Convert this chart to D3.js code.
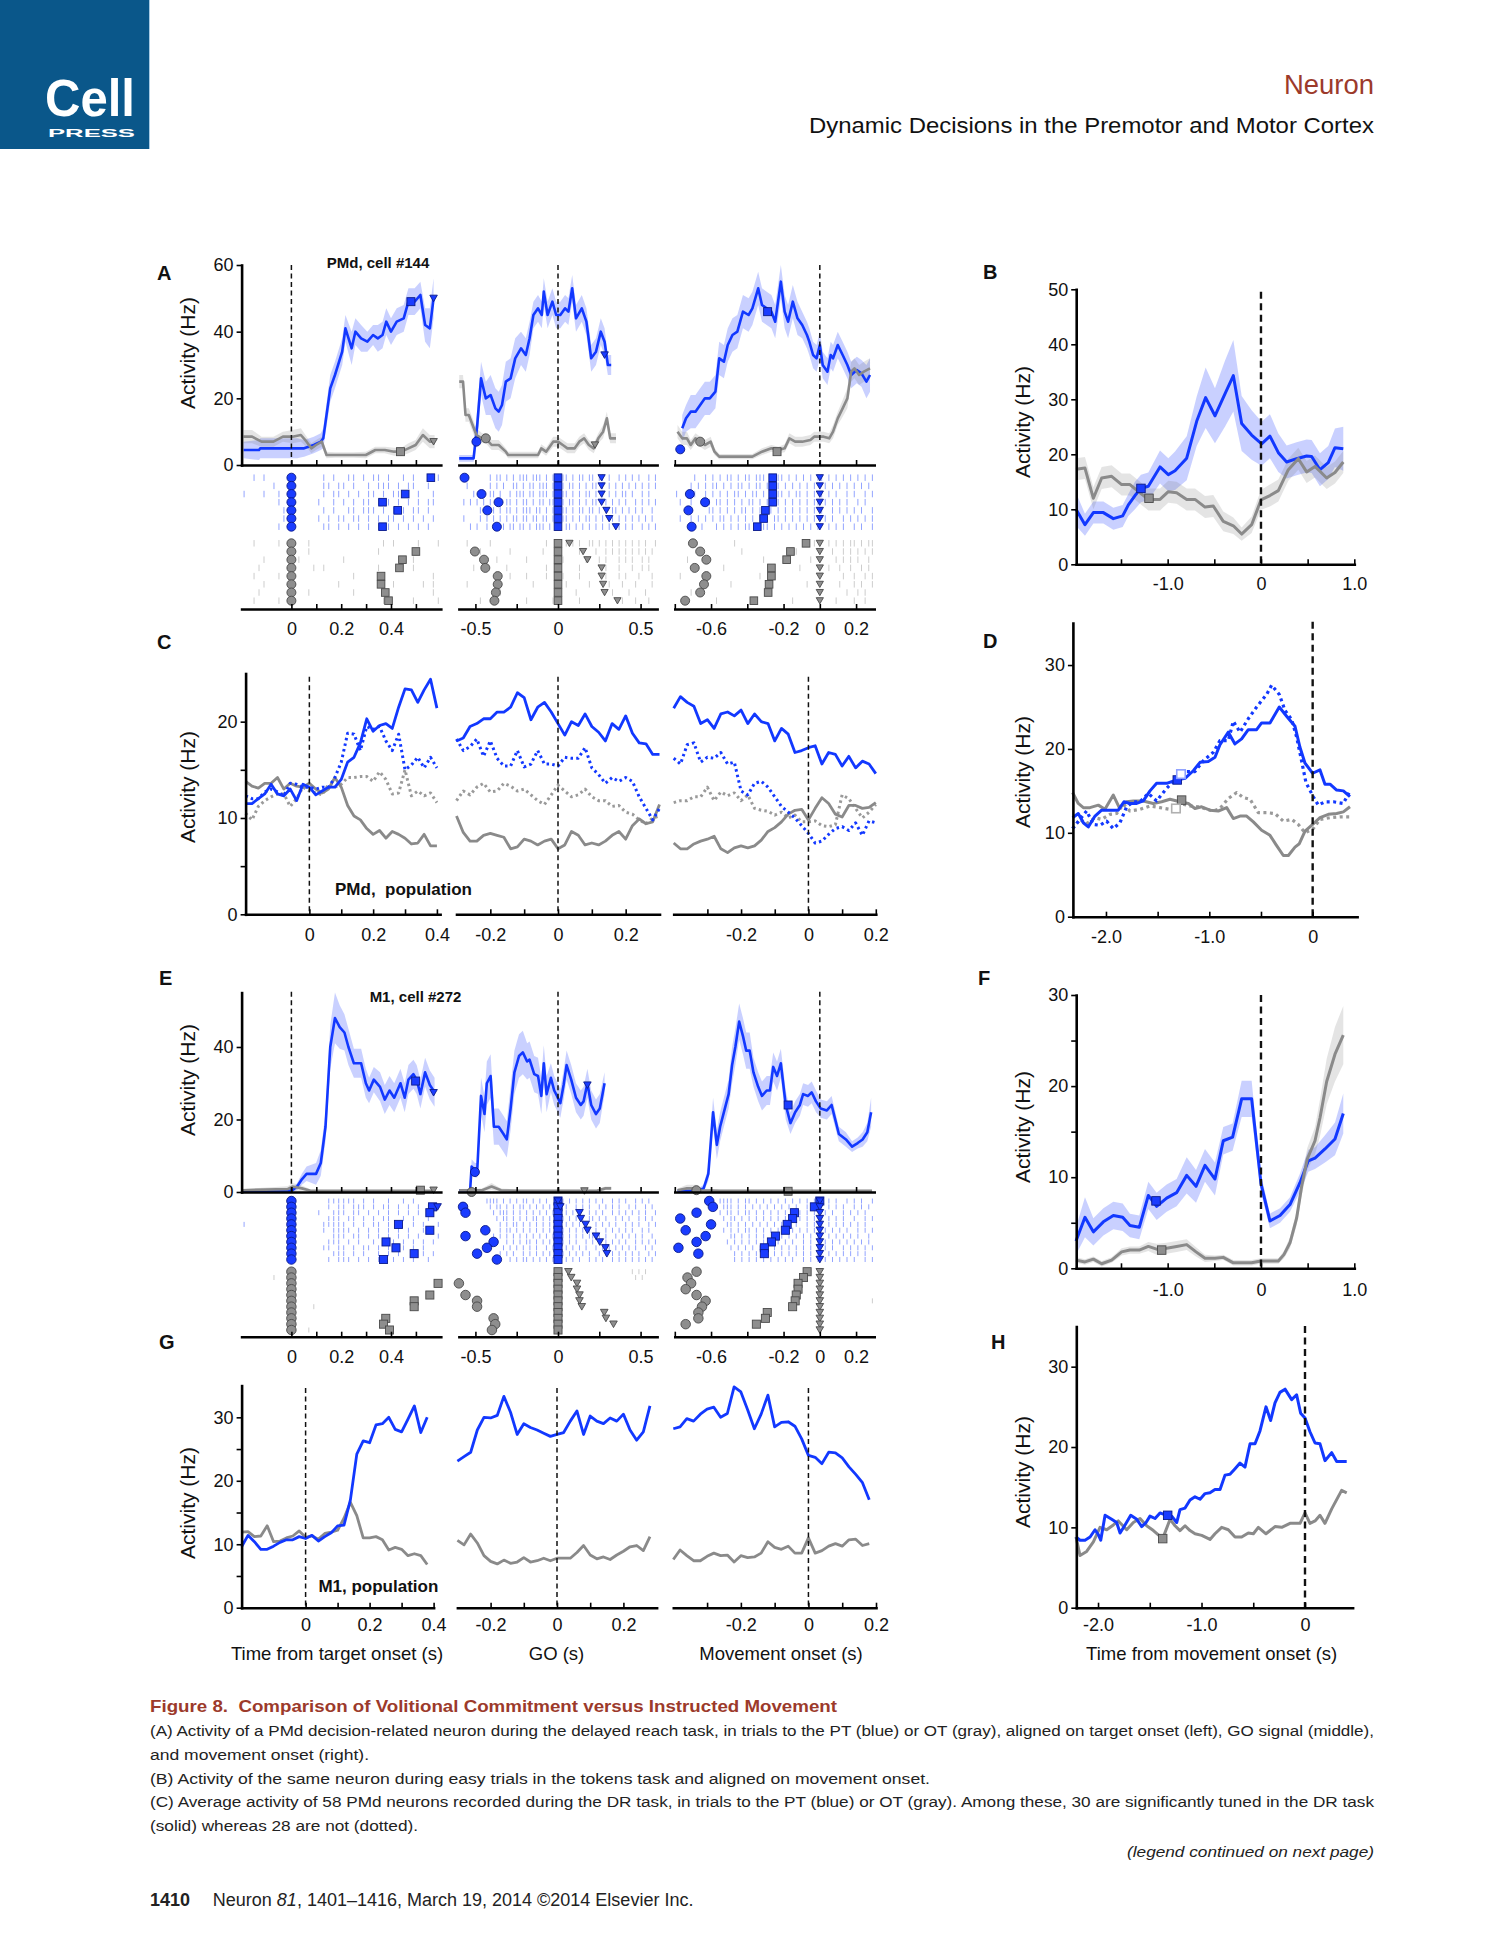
<!DOCTYPE html>
<html><head><meta charset="utf-8">
<script src="https://cdn.jsdelivr.net/npm/d3@7"></script>
<style>body{margin:0;background:#fff}svg{display:block}</style>
</head><body>
<script>
// ================= DATA =================
// Panel A (PMd cell #144, delayed reach): [time s, rate Hz, sem Hz]
const A_left_blue = [[-0.192,4.5,2.5],[-0.13,4.5,3],[-0.125,5,3],[-0.072,5,3],[-0.015,5,3],[0.023,5,3],[0.051,5,2.5],[0.09,6,2.5],[0.118,7,2.5],[0.128,8,3],[0.156,23,4],[0.175,27,4],[0.204,34,4],[0.217,41,4],[0.242,35,5],[0.257,40,4],[0.28,38,4],[0.305,37,3],[0.328,39,3],[0.347,38,4],[0.366,39,4],[0.381,43,4],[0.4,40,4],[0.423,43,4],[0.451,44,4],[0.47,49,4],[0.495,49,4],[0.518,51,4],[0.537,42,5],[0.556,41,6],[0.571,50,6]];
const A_left_gray = [[-0.192,8.5,2],[-0.158,8.5,2],[-0.12,7,1.5],[-0.072,7,1.5],[-0.034,8.5,1.5],[0.004,8.5,2],[0.038,9,2],[0.061,7,1.5],[0.08,5,1.5],[0.099,6,1.5],[0.122,7,1.5],[0.141,3,1],[0.175,3,0.8],[0.213,3,0.8],[0.251,3,0.8],[0.299,3,1],[0.337,4.5,1],[0.375,4.5,1],[0.413,4,1.2],[0.442,4,1.2],[0.47,5,1.5],[0.499,6,1.5],[0.528,9,2],[0.556,7,2],[0.575,7,2]];
const A_mid_blue = [[-0.598,2,1],[-0.511,2,1],[-0.5,7,3],[-0.489,12,5],[-0.466,26,5],[-0.437,20,5],[-0.408,21,6],[-0.379,17,6],[-0.359,16,6],[-0.339,18,6],[-0.316,25,6],[-0.287,26,6],[-0.259,32,6],[-0.224,35,5],[-0.195,33,5],[-0.172,38,5],[-0.149,45,4],[-0.121,47,4],[-0.098,45,4],[-0.086,52,4],[-0.063,45,4],[-0.034,49,4],[-0.011,45,4],[0.014,45,4],[0.043,47,4],[0.063,46,4],[0.086,53,4],[0.109,44,4],[0.144,47,4],[0.172,43,4],[0.201,32,4],[0.23,34,4],[0.259,40,4],[0.282,37,4],[0.302,30,3],[0.322,30,3]];
const A_mid_gray = [[-0.598,25,2],[-0.575,25,2],[-0.56,15,2],[-0.54,15,2],[-0.517,12,2],[-0.494,9,2],[-0.46,8,1.5],[-0.437,8,1.5],[-0.402,6,1.5],[-0.359,6,1.5],[-0.316,4,1],[-0.302,3,1],[-0.244,3,1],[-0.172,3,1],[-0.121,3,1],[-0.101,5,1.2],[-0.072,4,1.2],[-0.029,7,1.5],[0,7,1.5],[0.029,6,1.5],[0.057,5,1.5],[0.101,5,1.5],[0.129,7,1.5],[0.158,8,1.5],[0.187,6,1.5],[0.216,5,1.5],[0.244,8,1.5],[0.273,10,2],[0.296,14,2],[0.316,8,1.5],[0.351,8,1.5]];
const A_right_blue = [[-0.759,11,4],[-0.738,14,4],[-0.712,16,5],[-0.686,16,5],[-0.66,18,5],[-0.634,20,5],[-0.607,20,5],[-0.576,22,5],[-0.555,32,5],[-0.529,31,5],[-0.508,36,5],[-0.482,39,5],[-0.455,40,5],[-0.424,46,5],[-0.393,45,5],[-0.372,47,5],[-0.34,53,5],[-0.319,48,5],[-0.293,47,5],[-0.267,46,5],[-0.246,43,5],[-0.215,55,5],[-0.194,46,5],[-0.175,43,5],[-0.149,49,5],[-0.123,44,5],[-0.097,42,4],[-0.071,39,4],[-0.058,37,4],[-0.037,33,4],[-0.018,32,4],[0,36,4],[0.016,30,4],[0.042,28,4],[0.06,33,4],[0.073,32,4],[0.099,36,4],[0.126,33,4],[0.152,30,4],[0.173,27,4],[0.204,28.5,4],[0.23,27.5,4],[0.257,25,5],[0.277,27,5]];
const A_right_gray = [[-0.785,10,2],[-0.759,8,2],[-0.733,8,2],[-0.712,6,1.5],[-0.686,8,1.5],[-0.66,7,1.5],[-0.634,6,1.5],[-0.602,7,1.5],[-0.581,4,1],[-0.555,2.5,0.8],[-0.503,2.5,0.8],[-0.424,2.5,0.8],[-0.372,2.5,0.8],[-0.319,4,1],[-0.267,5,1],[-0.228,4.5,1],[-0.194,5,1.2],[-0.168,8,1.5],[-0.136,7,1.5],[-0.097,7,1.5],[-0.052,7.5,1.5],[-0.031,8.5,1.5],[0.021,8.5,1.5],[0.052,8,1.5],[0.073,10,2],[0.099,14,2],[0.126,17,2.5],[0.152,20,3],[0.173,28,3],[0.191,29,3],[0.217,27,3],[0.243,28,3],[0.277,29,3]];
// PSTH event markers: [time, rate, shape (c circle / s square / t triangle), colour (b/g)]
const A_left_marks = [[0.48,49,"s","b"],[0.571,50,"t","b"],[0.438,4,"s","g"],[0.571,7,"t","g"]];
const A_mid_marks = [[-0.494,7,"c","b"],[-0.437,8,"c","g"],[0.282,33,"t","b"],[0.224,6,"t","g"]];
const A_right_marks = [[-0.77,4.7,"c","b"],[-0.66,7,"c","g"],[-0.288,46,"s","b"],[-0.236,4,"s","g"]];
// Rasters: one string per trial, one character per 20 ms bin ("|" = spike), spaces ignored
const A_left_rasterBlue = [
"..|.|..... ......|.|. .||.|.||.| ..|.|..|.|",
"......|... ......||.| |.|..|.||| .|.||..|..",
"|...|..|.. ......|.|| .|.|.||.|. ||.|.|..|.",
".......|.. .....|..|. |.|.||.|.| .|.|.|.||.",
"........|. ......|.|. .||.|||.|. |.|.||.|..",
"........|. .....|.|.| |.||.|.|.| |.|.|.|.|.",
".......|.. ......||.| .|.|.|.||| .|.|.|.|.."];
const A_left_rasterGray = [
"..|....|.. ...|...... ........|. |....|...|",
".......... ...|...... .......|.. ....|.....",
"....|..... .|........ |......... ....|.....",
"...|...... ....|.|... .......|.. ....|.....",
"..|....|.. .......... ..|....... ........|.",
"....|..... .........| .......... |.....|.|.",
"...|...... ...|...... ..|....... ........|.",
"..|....|.. .......... ........|. ....|....|"];
const A_mid_rasterBlue = [
".........| .||.|.|.|| |.|||.|.|| |||.|.||.| |.||.|..|. |.|.|..|.|",
"..|......| .|.|..||.| .||.|||.|| ||.||.|.|. ||.|.|.|.| .|.|.|.|.|",
"....|.|..| |.|..|.||| .||.|||.|| |||.|.|.|| .|.|.|.|.| |.|..|.|..",
".|.|.|.|.| ..|.||.|.| |.|.||.||| ||.||.|.|. ||..|.|.|. |..|.|.|.|",
"......|.|. |.|.||.|.| ||.||.|.|| .||.|.||.| |.|.|.||.| .|.|.|..|.",
".|....|.|. |.|.|.||.| |.||.||.|. |||.|.|.|| .|.|.||.|. |.|.|.|.|.",
"...|.|..|. |..|.||.|| .|.|||.|.| |.||.|.|.| .|.|.|..|. |.|..|.|.|"];
const A_mid_rasterGray = [
"..|......| .......... ......|..| ..|.|.|..| |.|.|.|.|. |.|.|.|..|",
"......|... .....|.... .....|.... |.....|... .|..|.|.|. |.|.|.|.|.",
".......... .|........ |......... .|......|. ..|.|...|. |.|..|.|..",
"....|..... ....|..... ......|... ......|... ....|...|. ..|..|.|..",
".......... .....|.... |.....|... .|....|... ....|...|. |...|...|.",
"..|....... .......... ..|....... ..|......| .....|...| ...|....|.",
".......... ..|....... .........| .....|.... ......|... .|....|...",
"......|... .......... |.......|. ......|... .........| ...|...|.."];
const A_right_rasterBlue = [
".....|..|. |.|.||.|.| |.|||.|.|| .|.|.|.|.| |.|.|.|.|. |.|.|",
"....|.|.|. ||.|.|.||. |.||.|.||. |.|.|.|.|. .|.|.|.|.| .|.|.",
"|....|..|. |.|.|.||.| .||.|.|.|| .|.||.|.|. |.|.|..|.| ..|.|",
".|..|..|.| .||.|.|.|. ||.|.||.|. |.|.|.|.|| .|.|.|.|.. |.|..",
"....|....| |.|.|.|.|| .|.|.||.|. |.|.|.|.|. |..|.|.|.| .|..|",
".|..|.|.|. |.||.|.|.| .|.|.|.||. |.|.|.|.|. .|.|..|.|. |.|.|",
"....|..|.. .|.|.|.|.| |.|.||.|.| .|.|.|.|.| ..|.|.|..| .|..|"];
const A_right_rasterGray = [
"....|..... ......|... .......... .....|..|. ..|.|.|.|| .|.||",
".......... ........|. .......... ...|...... ...|..|.|. |.|.|",
"...|...... .......... ....|..... .......|.. ....|.|.|. |..|.",
".......... ...|...... .......... ....|..... ..|..|..|. .|.|.",
".|........ .......... ...|...... .......... ......|..| ..|.|",
".......... .....|.... .......... ......|... .....|...| .|..|",
"....|..... .......... ......|... .......... .......|.. |.|..",
".......... .|........ .......... ..|....... ....|....| ..|.."];
// Raster trial events: [trial row, time s, shape]
const A_left_evBlue = [[0,0,"c"],[1,0,"c"],[2,0,"c"],[3,0,"c"],[4,0,"c"],[5,0,"c"],[6,0,"c"],[0,0.56,"s"],[2,0.457,"s"],[3,0.366,"s"],[4,0.427,"s"],[6,0.366,"s"]];
const A_left_evGray = [[0,0,"c"],[1,0,"c"],[2,0,"c"],[3,0,"c"],[4,0,"c"],[5,0,"c"],[6,0,"c"],[7,0,"c"],[1,0.5,"s"],[2,0.446,"s"],[3,0.434,"s"],[4,0.36,"s"],[5,0.36,"s"],[6,0.377,"s"],[7,0.39,"s"]];
const A_mid_evBlue = [[0,-0.566,"c"],[2,-0.463,"c"],[3,-0.36,"c"],[4,-0.428,"c"],[6,-0.37,"c"],[0,0,"s"],[1,0,"s"],[2,0,"s"],[3,0,"s"],[4,0,"s"],[5,0,"s"],[6,0,"s"],[0,0.264,"t"],[1,0.264,"t"],[2,0.264,"t"],[3,0.264,"t"],[4,0.293,"t"],[5,0.31,"t"],[6,0.35,"t"]];
const A_mid_evGray = [[1,-0.503,"c"],[2,-0.448,"c"],[3,-0.44,"c"],[4,-0.365,"c"],[5,-0.365,"c"],[6,-0.376,"c"],[7,-0.385,"c"],[0,0,"s"],[1,0,"s"],[2,0,"s"],[3,0,"s"],[4,0,"s"],[5,0,"s"],[6,0,"s"],[7,0,"s"],[0,0.069,"t"],[1,0.152,"t"],[2,0.178,"t"],[3,0.264,"t"],[4,0.264,"t"],[5,0.273,"t"],[6,0.282,"t"],[7,0.36,"t"]];
const A_right_evBlue = [[2,-0.717,"c"],[3,-0.633,"c"],[4,-0.725,"c"],[6,-0.707,"c"],[0,-0.26,"s"],[1,-0.26,"s"],[2,-0.26,"s"],[3,-0.26,"s"],[4,-0.3,"s"],[5,-0.31,"s"],[6,-0.345,"s"],[0,0,"t"],[1,0,"t"],[2,0,"t"],[3,0,"t"],[4,0,"t"],[5,0,"t"],[6,0,"t"]];
const A_right_evGray = [[0,-0.7,"c"],[1,-0.66,"c"],[2,-0.626,"c"],[3,-0.69,"c"],[4,-0.626,"c"],[5,-0.639,"c"],[6,-0.66,"c"],[7,-0.743,"c"],[0,-0.076,"s"],[1,-0.162,"s"],[2,-0.183,"s"],[3,-0.267,"s"],[4,-0.267,"s"],[5,-0.28,"s"],[6,-0.285,"s"],[7,-0.364,"s"],[0,0,"t"],[1,0,"t"],[2,0,"t"],[3,0,"t"],[4,0,"t"],[5,0,"t"],[6,0,"t"],[7,0,"t"]];

// Panel B (same neuron, tokens task): [time, rate, sem]
const B_blue = [[-1.982,10,3],[-1.886,7.2,2],[-1.796,9.4,2],[-1.689,9.4,2],[-1.582,8.3,2],[-1.482,8.8,2],[-1.421,10.8,2],[-1.35,12.5,2.5],[-1.286,13.8,2.5],[-1.207,14.2,2.5],[-1.082,17.7,3],[-0.993,16.3,3],[-0.921,17,3.5],[-0.796,19.3,4],[-0.689,26,4.5],[-0.593,30.3,5.5],[-0.493,27,5],[-0.386,31,6],[-0.296,34.3,6.5],[-0.207,25.6,5],[-0.1,23.5,4.5],[0.007,21.9,4],[0.096,23.3,4],[0.186,20.3,3.5],[0.275,18.6,3],[0.382,19.2,3],[0.489,19.7,3],[0.543,19.6,3],[0.632,17.2,3],[0.721,18.5,3],[0.793,21.2,3.5],[0.882,21,4]];
const B_gray = [[-1.982,17.3,2],[-1.886,17.5,2],[-1.796,12,2],[-1.707,15.7,2],[-1.6,16,2],[-1.493,14.5,2],[-1.404,14.5,2],[-1.296,13,2],[-1.207,11.8,2],[-1.082,11.8,2],[-0.993,13.2,2],[-0.904,13,2],[-0.796,11.8,2],[-0.707,11.8,2],[-0.6,10.4,2],[-0.511,10.6,2],[-0.404,7.8,1.8],[-0.296,7,1.5],[-0.207,5.5,1.2],[-0.1,7.2,1.5],[0,11.7,1.8],[0.096,12.5,2],[0.186,13.4,2],[0.293,17.2,2],[0.4,19.2,2],[0.489,16.8,2],[0.579,17.8,2],[0.704,15.7,2],[0.793,16.7,2],[0.882,18.6,2]];
const B_marks = [[-1.286,13.8,"s","b"],[-1.2,12,"s","g"]];

// Panel C (PMd population, DR task): times and rates (solid = tuned, dotted = not tuned)
const C_left_t = [-0.2,-0.18,-0.16,-0.14,-0.12,-0.1,-0.08,-0.06,-0.04,-0.02,0,0.02,0.04,0.06,0.08,0.1,0.12,0.14,0.16,0.18,0.2,0.22,0.24,0.26,0.28,0.3,0.32,0.34,0.36,0.38,0.4];
const C_mid_t = [-0.3,-0.28,-0.26,-0.24,-0.22,-0.2,-0.18,-0.16,-0.14,-0.12,-0.1,-0.08,-0.06,-0.04,-0.02,0,0.02,0.04,0.06,0.08,0.1,0.12,0.14,0.16,0.18,0.2,0.22,0.24,0.26,0.28,0.3];
const C_right_t = [-0.4,-0.38,-0.36,-0.34,-0.32,-0.3,-0.28,-0.26,-0.24,-0.22,-0.2,-0.18,-0.16,-0.14,-0.12,-0.1,-0.08,-0.06,-0.04,-0.02,0,0.02,0.04,0.06,0.08,0.1,0.12,0.14,0.16,0.18,0.2];
const C_left_blueSolid = [11.5,11.5,12,12.5,13.5,12.5,12.3,13,11.8,13.5,13.2,12.4,12.8,13.2,13.2,14,15.8,16.3,17.8,20.3,19,19.6,19.8,19.3,21.5,23.4,23.3,22,23.3,24.4,21.4];
const C_left_blueDot = [12.3,12,12,12.7,13,12.7,12.3,13.6,13.5,13.2,13.2,13,13.2,13.2,14.2,15.8,18.8,18.7,17,19.5,19.2,19.5,18,17,18.7,15,15.5,16.3,15.2,16.3,15.2];
const C_left_graySolid = [13.8,13.3,13.1,13.6,13.6,14.2,13,13.6,13.3,13.2,13.6,13,12.6,13,14.2,13.2,11.3,10.2,9.8,8.9,8.3,8.7,7.9,8.6,8.3,7.9,7.3,7.4,8.3,7.1,7.1];
const C_left_grayDot = [10.5,9.8,11.2,11.8,12.2,12.5,12.5,11.2,12,13.2,12.8,12.6,12.4,13.5,13.2,13.5,14.2,14.2,14.3,14.3,13.8,14.8,14,12.5,12.6,15,12.3,12.8,12.3,12.6,11.6];
const C_mid_blueSolid = [18,18.3,19.5,19.8,20.3,20.3,21,21,21.5,23,22.5,20.2,21.5,22,21,19.8,18.6,20,19.6,20.8,19.5,18.9,18,19.8,19.2,20.6,18.8,17.8,17.7,16.6,16.6];
const C_mid_blueDot = [18.2,17,17.4,18.2,16.4,18,16.2,15.4,15.4,17,15.3,15.6,17,15.6,15.6,15.4,16.3,16.2,16.2,17.3,15.2,14.5,13.6,14.2,13.8,14.2,13.8,12.2,11,9.8,11];
const C_mid_graySolid = [10.2,8.5,7.6,7.6,8.2,8.4,8.2,8,6.8,7,7.8,7.6,7.2,7.6,7.8,6.8,7.2,8.6,8.2,7.2,7.4,7.2,7.6,8.2,8.6,7.8,9.2,9.9,9.4,9.6,11.4];
const C_mid_grayDot = [11.8,12.8,12.4,13.2,13.6,12.7,12.8,13.6,13.3,12.8,13,12.4,11.8,11.4,12.4,13.4,12.8,12.2,12.4,13,12.2,11.8,11.8,11.2,11.3,10.6,10.4,9.8,9.4,10,10.2];
const C_right_blueSolid = [21.4,22.6,22,21.6,19.8,20.2,19.3,20.8,21,20.6,21.2,19.8,20.8,20,19.8,18,19.3,18.7,16.8,17,17.3,17.5,15.6,16.8,16.6,15.4,16.4,15.2,15.9,15.6,14.6];
const C_right_blueDot = [16.2,15.6,17.6,17.8,15.8,16.3,16.2,16.8,15.6,15.8,12.8,12.4,13.6,13.8,13.2,12.2,11.2,10.6,10,9.2,8.4,7.4,7.6,8.3,8.9,9.1,8.7,9.5,8.2,9.7,9.5];
const C_right_graySolid = [7.4,6.8,6.8,7.3,7.6,7.8,8.1,6.8,6.4,6.9,7.1,6.9,7.1,7.7,8.6,9,9.6,10.4,10.8,10.9,9.8,11,12.1,11.5,10.4,10.1,11.3,11.3,11,11.1,11.6];
const C_right_grayDot = [11.6,11.8,11.8,12.2,12.2,13.2,11.8,12.7,12.3,12.6,11.8,12.4,11,10.8,10.7,10.3,10.6,10,10.3,9.6,9.6,9.7,9.2,9.1,9.3,12.4,12,11,10,10.6,11.4];

// Panel D (PMd population, tokens task): [time, rate]
const D_blueSolid = [[-2.323,11.8],[-2.268,12.3],[-2.219,11.2],[-2.171,10.7],[-2.106,12],[-2.042,12.7],[-1.961,12.7],[-1.881,12.7],[-1.826,13.7],[-1.768,13.5],[-1.703,13.5],[-1.639,13.8],[-1.574,15],[-1.51,15.9],[-1.413,15.9],[-1.316,16.3],[-1.235,16.5],[-1.155,17.4],[-1.09,18.4],[-1.01,18.5],[-0.945,19],[-0.897,20.5],[-0.816,22],[-0.752,20.6],[-0.687,21.2],[-0.623,22.3],[-0.542,22.3],[-0.494,23.1],[-0.413,23.1],[-0.323,25],[-0.252,23.9],[-0.171,22.7],[-0.123,20.2],[-0.074,18.3],[0,17.1],[0.071,17.5],[0.119,15.8],[0.168,15.8],[0.232,15.1],[0.297,15],[0.361,14.3]];
const D_blueDot = [[-2.323,10.5],[-2.252,11.6],[-2.187,12.6],[-2.123,11],[-2.058,10.9],[-1.994,11.4],[-1.929,10.5],[-1.865,11.2],[-1.8,13.1],[-1.735,13.7],[-1.671,13.7],[-1.59,14.7],[-1.51,13.8],[-1.413,15.3],[-1.316,16.5],[-1.219,17.3],[-1.139,17.3],[-1.058,18.6],[-0.961,19.6],[-0.897,21],[-0.816,21],[-0.768,23.3],[-0.703,22],[-0.623,23.6],[-0.542,25],[-0.445,26.5],[-0.397,27.6],[-0.323,26.5],[-0.268,24.6],[-0.203,23.5],[-0.155,21.4],[-0.106,18.5],[-0.065,16],[0.006,14.3],[0.055,13.3],[0.119,13.7],[0.2,13.7],[0.297,13.5],[0.361,15]];
const D_graySolid = [[-2.323,14.8],[-2.268,13.5],[-2.219,13],[-2.155,13],[-2.074,13.3],[-2.01,12.8],[-1.929,14.5],[-1.871,13],[-1.8,13.7],[-1.735,13.8],[-1.639,13.8],[-1.542,13.5],[-1.461,13.7],[-1.381,14],[-1.284,13.7],[-1.203,13.5],[-1.139,12.9],[-1.074,13.1],[-0.994,12.7],[-0.913,12.6],[-0.832,13],[-0.768,11.7],[-0.703,12],[-0.639,12],[-0.574,11.3],[-0.494,10.3],[-0.413,9.7],[-0.355,8.6],[-0.284,7.3],[-0.235,7.3],[-0.171,8.3],[-0.129,8.7],[-0.074,10.2],[0,11],[0.071,11.8],[0.152,12.2],[0.232,12.3],[0.297,12.5],[0.361,13.1]];
const D_grayDot = [[-2.323,10.5],[-2.252,11.6],[-2.187,11.1],[-2.106,11.8],[-2.042,11.6],[-1.961,12.2],[-1.897,12.3],[-1.832,13.4],[-1.768,12.6],[-1.671,12.8],[-1.574,13.2],[-1.477,13],[-1.381,12.8],[-1.284,13.5],[-1.187,13.2],[-1.09,13.1],[-1.026,12.8],[-0.961,12.6],[-0.897,12.9],[-0.816,14.1],[-0.735,14.8],[-0.671,14.2],[-0.606,14],[-0.526,12.4],[-0.445,12.4],[-0.365,12.3],[-0.284,11.4],[-0.203,11.6],[-0.139,11],[-0.074,10],[0.006,10.5],[0.071,11.6],[0.168,11.8],[0.265,11.9],[0.361,11.9]];
const D_marks = [[-1.31,16.3,"s","b"],[-1.274,17,"s","bo"],[-1.268,13.9,"s","g"],[-1.323,12.9,"s","go"]];

// Panel E (M1 cell #272, delayed reach): [time, rate, sem]
const E_left_blue = [[-0.196,0.3,0.3],[-0.015,0.3,0.3],[0.004,0.5,0.5],[0.023,1.5,1],[0.042,3.5,1.5],[0.061,5,2],[0.099,5,3],[0.118,8,3.5],[0.137,18,4],[0.156,40,6],[0.175,48,7],[0.194,45.5,6],[0.213,44,5],[0.229,40,5],[0.251,35.5,4],[0.28,35.5,4],[0.299,30,4],[0.312,28,3.5],[0.331,31,3.5],[0.356,29,4],[0.375,25.5,4],[0.394,28,4],[0.413,26,4],[0.438,30,4],[0.455,26,4],[0.47,31,4],[0.49,32.5,4],[0.503,31,4],[0.518,27,4],[0.537,33,4],[0.556,29.5,4],[0.575,27.5,4]];
const E_left_gray = [[-0.196,0.5,0.3],[-0.015,0.8,0.8],[0.004,1.5,1],[0.042,1,0.8],[0.08,0.3,0.3],[0.2,0.3,0.2],[0.575,0.3,0.2]];
const E_mid_blue = [[-0.598,0.5,0.3],[-0.532,0.5,0.3],[-0.523,7,2],[-0.503,6,2],[-0.489,6,2],[-0.466,26.5,5],[-0.445,21.5,5],[-0.431,30,6],[-0.408,32,6],[-0.388,18,5],[-0.359,18,5],[-0.33,16,5],[-0.31,14.5,5],[-0.287,23,6],[-0.264,33,6],[-0.236,37.5,6],[-0.213,38.5,6],[-0.187,36,5],[-0.172,36.5,5],[-0.144,32.5,5],[-0.121,32,5],[-0.101,26.5,5],[-0.086,35.5,5],[-0.069,27,5],[-0.043,31.5,4],[-0.023,28,4],[-0.006,26.5,4],[0.014,24.5,4],[0.034,29.5,4],[0.052,35,4],[0.08,31,4],[0.109,26,4],[0.138,24,4],[0.155,25,4],[0.178,30,4],[0.201,24,4],[0.23,21.5,4],[0.253,23,4],[0.282,30,3]];
const E_mid_gray = [[-0.598,0.5,0.3],[-0.46,0.5,0.5],[-0.402,1.5,1],[-0.345,0.5,0.5],[-0.23,0.3,0.3],[0.23,0.3,0.3],[0.287,1,0.5],[0.322,1,0.5]];
const E_right_blue = [[-0.785,0.3,0.3],[-0.681,0.3,0.3],[-0.641,1,1],[-0.615,5,2],[-0.589,22,4],[-0.568,13,4],[-0.55,18,4],[-0.524,23,4],[-0.503,27,4],[-0.484,35,5],[-0.466,40,5],[-0.445,47,5],[-0.424,43,5],[-0.406,39,5],[-0.387,39,5],[-0.366,33,4],[-0.34,29,4],[-0.319,26.5,4],[-0.293,28,4],[-0.275,28,4],[-0.257,34.5,4],[-0.236,32,4],[-0.215,35.5,4],[-0.188,24,4],[-0.162,19,3],[-0.136,22,3],[-0.11,24,3],[-0.092,27,3],[-0.065,26.5,3],[-0.045,27.5,3],[-0.021,25,3],[0.005,23,2.5],[0.039,22.5,2.5],[0.065,24,2.5],[0.105,16,2],[0.144,14.5,2],[0.178,12.5,1.5],[0.209,13.5,1.5],[0.236,14.5,2],[0.262,16.5,2.5],[0.283,22,4]];
const E_right_gray = [[-0.785,0.5,0.5],[-0.733,1,1],[-0.681,1,1],[-0.654,0.5,0.5],[-0.55,0.3,0.3],[0.288,0.3,0.3]];
const E_left_marks = [[0.499,30.6,"s","b"],[0.571,27.4,"t","b"],[0.518,0.5,"s","g"],[0.571,0.5,"t","g"]];
const E_mid_marks = [[-0.503,5.5,"c","b"],[-0.523,0,"c","g"],[0.178,29.5,"t","b"],[0.16,0.3,"t","g"]];
const E_right_marks = [[-0.681,0.5,"c","g"],[-0.175,0.2,"s","g"],[-0.175,24,"s","b"]];
const E_left_rasterBlue = [
".......... .......||| |||.|.|..| ..|.|.....",
".......... .......|.| |.|||.|.|| .|.|.|.|..",
".......... .....|..|| |.||.|.|.| .|.|.|..|.",
".......... .......||| .||.|.|.|| ..|.|..|..",
"|......... ......|||| |.|.|.||.| .|..|.|..|",
".......... ......|.|| ||.|.|.|.| .|.|..|.|.",
".......... ........|| |.||.|.|.| .|.|.|...|",
".......... .......||| .|.|..|.|. |.|.|.|.|.",
".......... ......||.| |.|.||.|.| ..|.|.|...",
".......... ........|| |.|.|..|.| .|..|.|.|.",
".......... .......|.| ||.|.|.|.. |.|.|..|.."];
const E_left_rasterGray = ["","......|","","","","","..............|","","","",".............|"];
const E_mid_rasterBlue = [
"........|| ||.|.|.|.| |.|.|.|..| .|.|.|.|.| .|.|..|.|. |..|.|.|..",
".........| .||.|.|.|| .|.|.|.|.| |.|..|.|.| ..|.|.|.|. .|.|..|.|.",
".......... |.|||.|.|. |.|.|.|.|. |.|.|.|..| .|.|..|.|. |.|.|.|..|",
".......... .|.||.|.|. |.||.|.|.| .|.|.|.|.| |.|.|..|.| .|..|.|.|.",
".......... ..|.|.||.| .|.|.|.|.| |.|.|.|.|. .|.|.|.|.. |.|.|..|.|",
".......... ..|.||.|.| .|.|.|.|.| .|.|.|.|.| .|..|.|.|. |.|..|.|..",
".......... |.|.|.|.|. |.|.|.|.|| .|.|.|.|.| |.|.|..|.| .|.|.|..|.",
".......... ....|.|.|. ||.|.|.|.| .|.|.|..|. |.|.|.|.|. |..|.|.|.|",
".......... ...|.|.|.| .|.|..|.|. |.|.|.|.|. .|.|.|.|.| .|.|..|.|.",
".......... ..|.|.|..| .|.|.|.|.| .|.|.|.|.| ..|.|.|.|. |.|.|..|.|",
".......... .....|.|.| |.|.|.|.|. |.|.|.|..| .|.|..|.|. |.|.|.|.|."];
const E_mid_rasterGray = [
".......... .......... .......... .......... .......... ..|.|.|...",
".......... .......... .......... .......... .......... ...|.|....",
"","","","","","","","",""];
const E_right_rasterBlue = [
".......... ..||||.|.| |.|.|.|.|. |.|.|.|.|. |.|.|..|.| .|..|",
".......... ...|||.|.| .|.|.|.|.| .|.|..|.|. |.|.|.|..| .|.|.",
".......... ..|.||.|.| |.|.|.|.|. |.|.|.|.|. .|.|..|.|. |.|..",
".......... ...|.||.|. |.|.|.|.|. |.|.|.|.|. |.|.|.|..| ..|.|",
".......... ....||.|.| .|.|.|.|.| .|.|..|.|. |.|.|.|.|. |.|..",
".......... ...|.|.|.| |.|.|.|.|. |.|.|.|.|. .|.|.|.|.. |.|.|",
".......... .....||.|. |.|.|..|.| .|.|.|.|.| ..|.|.|.|. |..|.",
".......... ....|.|.|. |.|.|.|.|. |.|..|.|.| .|.|.|.|.| .|.|.",
".......... .....|.|.| .|.|.|.|.| .|.|.|.|.| .|.|..|.|. |.|.|",
".......... ......|.|. |.|.|..|.| .|.|.|.|.| ..|.|.|.|. |.|..",
".......... ......|.|. |.|.|.|.|. |.|..|.|.| .|.|.|.|.| ..|.|"];
const E_right_rasterGray = ["","","","","",".......... .......... .......... .......... .......... ....|","","","","",""];
const E_left_evBlue = [[0,0,"c"],[1,0,"c"],[2,0,"c"],[3,0,"c"],[4,0,"c"],[5,0,"c"],[6,0,"c"],[7,0,"c"],[8,0,"c"],[9,0,"c"],[10,0,"c"],[1,0.567,"s"],[2,0.556,"s"],[4,0.43,"s"],[5,0.556,"s"],[7,0.38,"s"],[8,0.42,"s"],[9,0.493,"s"],[10,0.37,"s"],[1,0.587,"t"]];
const E_left_evGray = [[0,0,"c"],[1,0,"c"],[2,0,"c"],[3,0,"c"],[4,0,"c"],[5,0,"c"],[6,0,"c"],[7,0,"c"],[8,0,"c"],[9,0,"c"],[10,0,"c"],[2,0.589,"s"],[4,0.556,"s"],[5,0.493,"s"],[6,0.493,"s"],[8,0.379,"s"],[9,0.37,"s"],[10,0.394,"s"]];
const E_mid_evBlue = [[1,-0.575,"c"],[2,-0.56,"c"],[5,-0.44,"c"],[6,-0.56,"c"],[7,-0.39,"c"],[8,-0.43,"c"],[9,-0.49,"c"],[10,-0.37,"c"],[0,0,"s"],[1,0,"s"],[2,0,"s"],[3,0,"s"],[4,0,"s"],[5,0,"s"],[6,0,"s"],[7,0,"s"],[8,0,"s"],[9,0,"s"],[10,0,"s"],[0,0,"t"],[1,0.014,"t"],[2,0.13,"t"],[3,0.138,"t"],[4,0.167,"t"],[5,0.178,"t"],[6,0.23,"t"],[7,0.253,"t"],[8,0.287,"t"],[9,0.296,"t"]];
const E_mid_evGray = [[2,-0.6,"c"],[4,-0.56,"c"],[5,-0.49,"c"],[6,-0.49,"c"],[8,-0.39,"c"],[9,-0.38,"c"],[10,-0.4,"c"],[0,0,"s"],[1,0,"s"],[2,0,"s"],[3,0,"s"],[4,0,"s"],[5,0,"s"],[6,0,"s"],[7,0,"s"],[8,0,"s"],[9,0,"s"],[10,0,"s"],[0,0.063,"t"],[1,0.08,"t"],[2,0.115,"t"],[3,0.115,"t"],[4,0.13,"t"],[5,0.13,"t"],[6,0.144,"t"],[7,0.28,"t"],[8,0.29,"t"],[9,0.336,"t"]];
const E_right_evBlue = [[0,-0.61,"c"],[1,-0.59,"c"],[2,-0.68,"c"],[3,-0.77,"c"],[4,-0.6,"c"],[5,-0.74,"c"],[6,-0.63,"c"],[7,-0.68,"c"],[8,-0.78,"c"],[9,-0.67,"c"],[0,0,"s"],[1,-0.03,"s"],[2,-0.14,"s"],[3,-0.15,"s"],[4,-0.18,"s"],[5,-0.19,"s"],[6,-0.245,"s"],[7,-0.267,"s"],[8,-0.306,"s"],[9,-0.306,"s"],[0,0,"t"],[1,0,"t"],[2,0,"t"],[3,0,"t"],[4,0,"t"],[5,0,"t"],[6,0,"t"],[7,0,"t"],[8,0,"t"],[9,0,"t"],[10,0,"t"]];
const E_right_evGray = [[0,-0.68,"c"],[1,-0.73,"c"],[2,-0.71,"c"],[3,-0.74,"c"],[4,-0.68,"c"],[5,-0.63,"c"],[6,-0.65,"c"],[7,-0.67,"c"],[8,-0.67,"c"],[9,-0.74,"c"],[0,-0.07,"s"],[1,-0.09,"s"],[2,-0.12,"s"],[3,-0.12,"s"],[4,-0.13,"s"],[5,-0.136,"s"],[6,-0.15,"s"],[7,-0.29,"s"],[8,-0.3,"s"],[9,-0.35,"s"],[0,0,"t"],[1,0,"t"],[2,0,"t"],[3,0,"t"],[4,0,"t"],[5,0,"t"],[6,0,"t"],[7,0,"t"],[8,0,"t"],[9,0,"t"],[10,0,"t"]];

// Panel F (M1 cell, tokens task): [time, rate, sem]
const F_blue = [[-1.982,3,1.5],[-1.886,5.6,2.2],[-1.796,4,1.5],[-1.689,5.1,1.5],[-1.582,5.8,1.5],[-1.482,5.6,1.5],[-1.404,4.7,1.3],[-1.304,4.5,1.3],[-1.207,8,1.5],[-1.118,6.8,1.5],[-1.011,7.7,1.5],[-0.904,8.3,1.5],[-0.796,10.2,2],[-0.696,9,1.8],[-0.6,11.3,1.8],[-0.493,9.8,1.8],[-0.404,14,1.5],[-0.304,14.4,1.5],[-0.207,18.6,2],[-0.1,18.6,2],[0,9.3,1],[0.096,5.2,0.8],[0.204,5.8,0.8],[0.311,7,0.8],[0.418,9.4,1],[0.507,11.8,1.2],[0.579,12.1,1.2],[0.686,13.1,1.5],[0.793,14.2,1.8],[0.882,17,2.2]];
const F_gray = [[-1.982,0.9,0.3],[-1.886,0.7,0.3],[-1.796,1,0.3],[-1.707,0.5,0.3],[-1.6,0.9,0.3],[-1.493,1.8,0.4],[-1.404,2,0.4],[-1.304,2,0.4],[-1.207,2.4,0.5],[-1.118,2.1,0.6],[-1.011,2.2,0.6],[-0.904,2.4,0.6],[-0.796,2.6,0.6],[-0.696,1.8,0.5],[-0.6,1.1,0.4],[-0.493,1.1,0.3],[-0.404,1.2,0.3],[-0.296,0.6,0.3],[-0.189,0.6,0.3],[-0.1,0.6,0.3],[0,0.8,0.3],[0.096,0.8,0.3],[0.186,0.8,0.3],[0.246,1.5,0.4],[0.311,2.8,0.6],[0.382,5.5,0.8],[0.436,9,1],[0.496,12,1.2],[0.579,14,1.5],[0.632,16.5,2],[0.704,20.5,2.5],[0.793,23.5,3],[0.882,25.6,3.2]];
const F_marks = [[-1.125,7.4,"s","b"],[-1.064,2,"s","g"]];

// Panel G (M1 population, DR task)
const G_left_t = [-0.2,-0.18,-0.16,-0.14,-0.12,-0.1,-0.08,-0.06,-0.04,-0.02,0,0.02,0.04,0.06,0.08,0.1,0.12,0.14,0.16,0.18,0.2,0.22,0.24,0.26,0.28,0.3,0.32,0.34,0.36,0.38];
const G_mid_t = [-0.3,-0.28,-0.26,-0.24,-0.22,-0.2,-0.18,-0.16,-0.14,-0.12,-0.1,-0.08,-0.06,-0.04,-0.02,0,0.02,0.04,0.06,0.08,0.1,0.12,0.14,0.16,0.18,0.2,0.22,0.24,0.26,0.28];
const G_right_t = [-0.4,-0.38,-0.36,-0.34,-0.32,-0.3,-0.28,-0.26,-0.24,-0.22,-0.2,-0.18,-0.16,-0.14,-0.12,-0.1,-0.08,-0.06,-0.04,-0.02,0,0.02,0.04,0.06,0.08,0.1,0.12,0.14,0.16,0.18];
const G_left_blue = [9.6,11.4,10.4,9.2,9.2,9.7,10.3,10.7,10.7,11.2,10.9,11.4,10.5,11.2,11.8,12.9,13,17,24.2,26.3,26,28.8,29,30,28.1,27.7,29.7,31.8,27.6,30];
const G_left_gray = [11.9,12,11.2,11.3,12.9,10.4,10.5,11,11.3,12.1,11.1,11.3,10.8,11.7,11.9,12.2,14.1,16.6,14.5,11,11,11.2,10.7,9.1,9.5,9.2,8.2,8.5,8.2,6.8];
const G_mid_blue = [23.1,23.8,24.5,28,30,29.9,30.3,33.3,30.8,27.3,29,28.4,28,27.5,27,27.3,27.6,29.4,31,27.3,30.2,29.4,29,29.9,29.4,30.5,28,26.4,27.7,31.8];
const G_mid_gray = [10.6,9.9,11.6,10.2,8.2,7.3,6.9,7.5,7,7.2,7.9,7.2,7.4,7.8,7.4,7.8,7.8,7.8,8.7,9.8,8.3,7.7,8,7.6,8.3,8.9,9.6,9.8,9,11.2];
const G_right_blue = [28.2,28.5,29.8,29.4,30.5,31.3,31.6,30,30.6,34.8,34,31.2,28.2,30.5,33.5,28.5,29.2,29.3,28.6,26.6,24,23.7,22.7,24.5,24.4,23.6,22.2,21,19.7,17];
const G_right_gray = [7.6,9.1,8.2,7.4,7.4,8.1,8.6,8.2,8.3,7.2,8.2,7.9,8,8.6,10.4,9.5,9.2,9.7,8.6,8.6,11,8.6,9,9.7,10.1,9.7,10.7,10.8,9.8,10.1];

// Panel H (M1 population, tokens task): [time, rate]
const H_blue = [[-2.213,8.8],[-2.174,8.4],[-2.126,8.4],[-2.077,8.8],[-2.029,9.7],[-1.997,9.1],[-1.974,8.4],[-1.932,11.5],[-1.868,11],[-1.82,10.6],[-1.787,9.3],[-1.739,10.3],[-1.684,11.5],[-1.626,11],[-1.578,10.1],[-1.536,10.6],[-1.498,11.4],[-1.449,11.1],[-1.401,11.8],[-1.337,11.5],[-1.288,11.4],[-1.24,10.6],[-1.208,12.2],[-1.159,12.4],[-1.111,13.4],[-1.063,13.8],[-1.014,13.5],[-0.966,14.2],[-0.918,14.3],[-0.87,14.7],[-0.821,14.7],[-0.773,16.5],[-0.725,16.6],[-0.676,17.3],[-0.628,18],[-0.58,17.5],[-0.531,20.4],[-0.483,20.4],[-0.435,22],[-0.377,25],[-0.332,23.3],[-0.29,25.5],[-0.242,26.8],[-0.193,27.2],[-0.129,25.9],[-0.081,26.5],[-0.042,24.2],[0,23.6],[0.048,21.9],[0.097,20.5],[0.145,20.4],[0.193,18.3],[0.258,19.3],[0.306,18.2],[0.354,18.2],[0.403,18.2]];
const H_gray = [[-2.213,8.8],[-2.174,6.5],[-2.11,7],[-2.045,8.2],[-1.981,10],[-1.916,9.7],[-1.852,10.3],[-1.804,10.8],[-1.723,9.7],[-1.659,10.6],[-1.594,11.1],[-1.53,10.2],[-1.465,9.6],[-1.375,8.6],[-1.304,11],[-1.256,10.2],[-1.208,9.6],[-1.159,10.2],[-1.111,9.6],[-1.063,9.2],[-0.998,9],[-0.918,8.5],[-0.87,9.2],[-0.805,10],[-0.741,9.7],[-0.676,8.8],[-0.612,8.8],[-0.548,9.3],[-0.499,9.2],[-0.451,10],[-0.377,9.2],[-0.29,10.1],[-0.225,10],[-0.145,10.5],[-0.048,10.5],[0,11.8],[0.048,10.5],[0.097,10.8],[0.145,11.5],[0.193,10.5],[0.258,12.3],[0.354,14.6],[0.403,14.3]];
const H_marks = [[-1.327,11.5,"s","b"],[-1.375,8.6,"s","g"]];

// Tick values and labels
const xt_target = [0,0.1,0.2,0.3,0.4,0.5], xl_target = [[0,"0"],[0.2,"0.2"],[0.4,"0.4"]];
const xt_go = [-0.5,-0.25,0,0.25,0.5], xl_go = [[-0.5,"-0.5"],[0,"0"],[0.5,"0.5"]];
const xt_move = [-0.8,-0.6,-0.4,-0.2,0,0.2], xl_move = [[-0.6,"-0.6"],[-0.2,"-0.2"],[0,"0"],[0.2,"0.2"]];
const xt_popL = [0,0.1,0.2,0.3,0.4], xl_popL = [[0,"0"],[0.2,"0.2"],[0.4,"0.4"]];
const xt_popM = [-0.2,-0.1,0,0.1,0.2], xl_popM = [[-0.2,"-0.2"],[0,"0"],[0.2,"0.2"]];
const xt_popR = [-0.3,-0.2,-0.1,0,0.1,0.2], xl_popR = [[-0.2,"-0.2"],[0,"0"],[0.2,"0.2"]];
const xt_tokBF = [-1.5,-1,-0.5,0,0.5,1], xl_tokBF = [[-1,"-1.0"],[0,"0"],[1,"1.0"]];
const xt_tokDH = [-2,-1.5,-1,-0.5,0], xl_tokDH = [[-2,"-2.0"],[-1,"-1.0"],[0,"0"]];

// ================= DRAWING =================
const FONT = "'Liberation Sans', Arial, Helvetica, sans-serif";
const BLUE = "#1238ff", GRAY = "#8a8a8a";
const BLUE_BAND = "rgba(30,60,255,0.24)", GRAY_BAND = "rgba(120,120,120,0.2)";
const svg = d3.select("body").append("svg").attr("width",1508).attr("height",1958).style("font-family",FONT);
svg.append("rect").attr("width",1508).attr("height",1958).attr("fill","#fff");
const lin = (d,r) => d3.scaleLinear().domain(d).range(r);

function txt(x,y,s,size,o={}){
  const t = svg.append("text").attr("x",x).attr("y",y).text(s).style("font-size",size+"px").attr("fill",o.fill||"#111");
  if(o.bold) t.style("font-weight","bold");
  if(o.italic) t.style("font-style","italic");
  if(o.anchor) t.attr("text-anchor",o.anchor);
  if(o.len) t.attr("textLength",o.len).attr("lengthAdjust","spacingAndGlyphs");
  if(o.pre) t.style("white-space","pre");
  if(o.rot){ t.attr("transform",`rotate(-90,${x},${y})`).attr("dy","0.35em"); }
  return t;
}
function styleAx(g){
  g.attr("font-family",null).attr("font-size",null);
  g.select(".domain").attr("stroke","#000").attr("stroke-width",2.6).attr("stroke-linecap","square");
  g.selectAll(".tick line").attr("stroke","#000").attr("stroke-width",1.6);
  g.selectAll(".tick text").attr("fill","#111").style("font-size","18px").style("font-family",FONT);
}
function fmtFrom(labels){ return d => { const m = labels.find(l => Math.abs(l[0]-d) < 1e-9); return m ? m[1] : ""; }; }
function axisB(x, y0, ticks, labels, pad){
  const g = svg.append("g").attr("transform",`translate(0,${y0})`)
    .call(d3.axisBottom(x).tickValues(ticks).tickSize(-5).tickSizeOuter(0).tickPadding(pad).tickFormat(fmtFrom(labels)));
  styleAx(g);
}
function axisL(y, x0, ticks, labels){
  const g = svg.append("g").attr("transform",`translate(${x0},0)`)
    .call(d3.axisLeft(y).tickValues(ticks).tickSize(5).tickSizeOuter(0).tickPadding(3).tickFormat(fmtFrom(labels)));
  styleAx(g);
}
function vdash(x, y0, y1, w, dash){
  svg.append("line").attr("x1",x).attr("x2",x).attr("y1",y0).attr("y2",y1)
    .attr("stroke","#111").attr("stroke-width",w).attr("stroke-dasharray",dash);
}
function band(x,y,data,fill){
  svg.append("path").datum(data).attr("fill",fill).attr("stroke","none")
    .attr("d", d3.area().x(d=>x(d[0])).y0(d=>y(Math.max(0,d[1]-d[2]))).y1(d=>y(d[1]+d[2])));
}
function line(x,y,data,color,w,dash){
  const p = svg.append("path").datum(data).attr("fill","none").attr("stroke",color).attr("stroke-width",w)
    .attr("stroke-linejoin","round").attr("d", d3.line().x(d=>x(d[0])).y(d=>y(d[1])));
  if(dash) p.attr("stroke-dasharray",dash);
}
const MSTYLE = {
  b:{fill:"#1a3cff",stroke:"#0a1a8a"}, g:{fill:"#8e8e8e",stroke:"#4a4a4a"},
  bo:{fill:"#fff",stroke:"#8da0ff"}, go:{fill:"#fff",stroke:"#b0b0b0"}
};
function marker(cx,cy,shape,col,s){
  const st = MSTYLE[col]; let el;
  if(shape==="c") el = svg.append("circle").attr("cx",cx).attr("cy",cy).attr("r",s/2);
  else if(shape==="s") el = svg.append("rect").attr("x",cx-s/2).attr("y",cy-s/2).attr("width",s).attr("height",s);
  else el = svg.append("path").attr("d",`M${cx-s/2},${cy-s*0.42}L${cx+s/2},${cy-s*0.42}L${cx},${cy+s*0.45}Z`);
  el.attr("fill",st.fill).attr("stroke",st.stroke).attr("stroke-width",(col.length>1)?1.6:0.9);
}
function raster(x, rows, rowY, color, h, t0){
  const ticks = [];
  rows.forEach((s,i) => { const str = s.replace(/ /g,""); for(let k=0;k<str.length;k++) if(str[k]==="|") ticks.push([t0+(k+0.5)*0.02, i]); });
  svg.append("g").selectAll("line").data(ticks).join("line")
    .attr("x1",d=>x(d[0])).attr("x2",d=>x(d[0])).attr("y1",d=>rowY(d[1])-h/2).attr("y2",d=>rowY(d[1])+h/2)
    .attr("stroke",color).attr("stroke-width",1);
}
function events(x, evs, rowY, col, s){
  ["c","s","t"].forEach(sh => evs.filter(e=>e[2]===sh).forEach(e => marker(x(e[1]), rowY(e[0]), sh, col, sh==="c"?s:(sh==="s"?s*0.85:s*0.8))));
}

// ---------- header ----------
svg.append("rect").attr("x",0).attr("y",0).attr("width",149).attr("height",149).attr("fill","#0a578a");
svg.append("line").attr("x1",149.5).attr("x2",149.5).attr("y1",0).attr("y2",149).attr("stroke","#a9cbe4").attr("stroke-width",1);
txt(45,116,"Cell",52,{bold:true,fill:"#fff",len:90});
txt(48,137,"PRESS",11,{bold:true,fill:"#fff",len:87});
txt(1374,94,"Neuron",27,{anchor:"end",fill:"#9c3a2b",len:90});
txt(1374,133,"Dynamic Decisions in the Premotor and Motor Cortex",22,{anchor:"end",fill:"#111",len:565});

// ---------- single-cell panels (A, E) ----------
const xL = lin([-0.2,0.6],[241.6,440.8]), xM = lin([-0.6,0.6],[458.9,657.1]), xR = lin([-0.8,0.3],[674.8,874.2]);
function cellPanel(p){
  const subs = [
    {x:xL, blue:p.LB, gray:p.LG, marks:p.LM, rB:p.LrB, rG:p.LrG, eB:p.LeB, eG:p.LeG, t0:-0.2, ticks:xt_target, labels:xl_target},
    {x:xM, blue:p.MB, gray:p.MG, marks:p.MM, rB:p.MrB, rG:p.MrG, eB:p.MeB, eG:p.MeG, t0:-0.6, ticks:xt_go, labels:xl_go},
    {x:xR, blue:p.RB, gray:p.RG, marks:p.RM, rB:p.RrB, rG:p.RrG, eB:p.ReB, eG:p.ReG, t0:-0.8, ticks:xt_move, labels:xl_move}];
  subs.forEach(s => {
    band(s.x,p.y,s.blue,BLUE_BAND); band(s.x,p.y,s.gray,GRAY_BAND);
    line(s.x,p.y,s.blue,BLUE,2.6); line(s.x,p.y,s.gray,GRAY,2.6);
    vdash(s.x(0), p.dashTop, p.axisY, 1.5, "5,3.5");
    s.marks.forEach(m => marker(s.x(m[0]), p.y(m[1]), m[2], m[3], m[2]==="t"?7.5:(m[2]==="s"?8:9)));
    raster(s.x, s.rB, p.rowB, "#93a4ff", p.tickH, s.t0);
    raster(s.x, s.rG, p.rowG, "#cdcdcd", p.tickH, s.t0);
    events(s.x, s.eB, p.rowB, "b", p.mk);
    events(s.x, s.eG, p.rowG, "g", p.mk);
    axisB(s.x, p.axisY, s.ticks, [], 10);
    axisB(s.x, p.bottomY, s.ticks, s.labels, p.pad);
  });
  axisL(p.y, xL(-0.2), p.yTicks, p.yLabels);
}
const yA = lin([0,60],[465,265]);
cellPanel({y:yA, axisY:465, bottomY:609, dashTop:265, pad:13, tickH:6.5, mk:9,
  rowB:lin([0,6],[477.7,526.7]), rowG:lin([0,7],[543.3,600.7]),
  yTicks:[0,20,40,60], yLabels:[[0,"0"],[20,"20"],[40,"40"],[60,"60"]],
  LB:A_left_blue, LG:A_left_gray, LM:A_left_marks, LrB:A_left_rasterBlue, LrG:A_left_rasterGray, LeB:A_left_evBlue, LeG:A_left_evGray,
  MB:A_mid_blue, MG:A_mid_gray, MM:A_mid_marks, MrB:A_mid_rasterBlue, MrG:A_mid_rasterGray, MeB:A_mid_evBlue, MeG:A_mid_evGray,
  RB:A_right_blue, RG:A_right_gray, RM:A_right_marks, RrB:A_right_rasterBlue, RrG:A_right_rasterGray, ReB:A_right_evBlue, ReG:A_right_evGray});
const yE = lin([0,55],[1192,992.6]);
cellPanel({y:yE, axisY:1192, bottomY:1336.7, dashTop:991.7, pad:13.5, tickH:5, mk:9.5,
  rowB:lin([0,10],[1201,1259.5]), rowG:lin([0,10],[1271.7,1330]),
  yTicks:[0,20,40], yLabels:[[0,"0"],[20,"20"],[40,"40"]],
  LB:E_left_blue, LG:E_left_gray, LM:E_left_marks, LrB:E_left_rasterBlue, LrG:E_left_rasterGray, LeB:E_left_evBlue, LeG:E_left_evGray,
  MB:E_mid_blue, MG:E_mid_gray, MM:E_mid_marks, MrB:E_mid_rasterBlue, MrG:E_mid_rasterGray, MeB:E_mid_evBlue, MeG:E_mid_evGray,
  RB:E_right_blue, RG:E_right_gray, RM:E_right_marks, RrB:E_right_rasterBlue, RrG:E_right_rasterGray, ReB:E_right_evBlue, ReG:E_right_evGray});
txt(378,268,"PMd, cell #144",15,{bold:true,anchor:"middle"});
txt(415.5,1002,"M1, cell #272",15,{bold:true,anchor:"middle"});

// ---------- population panels (C, G) ----------
function popPanel(p){
  p.subs.forEach(s => {
    const z = a => d3.zip(s.t, a);
    if(s.gd) line(s.x,p.y,z(s.gd),"#9a9a9a",3,"2.5,3.2");
    line(s.x,p.y,z(s.gs),GRAY,2.8);
    if(s.bd) line(s.x,p.y,z(s.bd),BLUE,3,"2.5,3.2");
    line(s.x,p.y,z(s.bs),BLUE,2.8);
    vdash(s.x(0), p.dashTop, p.y(0), 1.5, "5,3.5");
    axisB(s.x, p.y(0), s.ticks, s.labels, p.pad);
  });
  axisL(p.y, p.subs[0].x.range()[0], p.yTicks, p.yLabels);
}
const yC = lin([0,25],[914.3,673.5]);
popPanel({y:yC, dashTop:676.7, pad:14.4, yTicks:[0,5,10,15,20], yLabels:[[0,"0"],[10,"10"],[20,"20"]], subs:[
  {x:lin([-0.2,0.41],[245.6,440.1]), t:C_left_t, bs:C_left_blueSolid, bd:C_left_blueDot, gs:C_left_graySolid, gd:C_left_grayDot, ticks:xt_popL, labels:xl_popL},
  {x:lin([-0.3,0.3],[456.5,659.5]), t:C_mid_t, bs:C_mid_blueSolid, bd:C_mid_blueDot, gs:C_mid_graySolid, gd:C_mid_grayDot, ticks:xt_popM, labels:xl_popM},
  {x:lin([-0.4,0.2],[673.7,875.8]), t:C_right_t, bs:C_right_blueSolid, bd:C_right_blueDot, gs:C_right_graySolid, gd:C_right_grayDot, ticks:xt_popR, labels:xl_popR}]});
txt(335,895,"PMd,  population",17,{bold:true,pre:true});
const yG = lin([0,35],[1607.7,1385.6]);
popPanel({y:yG, dashTop:1388, pad:11, yTicks:[0,5,10,15,20,25,30], yLabels:[[0,"0"],[10,"10"],[20,"20"],[30,"30"]], subs:[
  {x:lin([-0.2,0.4],[241.6,433.6]), t:G_left_t, bs:G_left_blue, gs:G_left_gray, ticks:xt_popL, labels:xl_popL},
  {x:lin([-0.3,0.3],[457.4,656.6]), t:G_mid_t, bs:G_mid_blue, gs:G_mid_gray, ticks:xt_popM, labels:xl_popM},
  {x:lin([-0.4,0.2],[673.3,876]), t:G_right_t, bs:G_right_blue, gs:G_right_gray, ticks:xt_popR, labels:xl_popR}]});
txt(318.4,1592,"M1, population",17,{bold:true});
txt(337,1660,"Time from target onset (s)",18.5,{anchor:"middle"});
txt(556.5,1660,"GO (s)",18.5,{anchor:"middle"});
txt(781,1660,"Movement onset (s)",18.5,{anchor:"middle"});

// ---------- token-task panels (B, D, F, H) ----------
// B
const xB = lin([-1.98,1.0],[1076.2,1354.3]), yB = lin([0,50],[564.3,289.3]);
band(xB,yB,B_blue,BLUE_BAND); band(xB,yB,B_gray,GRAY_BAND);
line(xB,yB,B_blue,BLUE,3); line(xB,yB,B_gray,GRAY,3);
vdash(xB(0),291.7,564.3,2.4,"7,4.5");
B_marks.forEach(m => marker(xB(m[0]),yB(m[1]),m[2],m[3],8.5));
axisB(xB,564.3,xt_tokBF,xl_tokBF,12.7);
axisL(yB,xB(-1.98),[0,10,20,30,40,50],[[0,"0"],[10,"10"],[20,"20"],[30,"30"],[40,"40"],[50,"50"]]);
// D
const xD = lin([-2.32,0.43],[1072.9,1357.1]), yD = lin([0,35],[916.7,623.1]);
line(xD,yD,D_grayDot,"#9a9a9a",3.2,"3,3.5");
line(xD,yD,D_graySolid,GRAY,3);
line(xD,yD,D_blueDot,BLUE,3.2,"3,3.5");
line(xD,yD,D_blueSolid,BLUE,3);
vdash(xD(0),621.7,916.7,2.4,"7,4.5");
D_marks.forEach(m => marker(xD(m[0]),yD(m[1]),m[2],m[3],8.5));
axisB(xD,916.7,xt_tokDH,xl_tokDH,13.5);
axisL(yD,xD(-2.32),[0,10,20,30],[[0,"0"],[10,"10"],[20,"20"],[30,"30"]]);
// F
const xF = lin([-1.98,1.0],[1076.2,1354.3]), yF = lin([0,30],[1268.3,995]);
band(xF,yF,F_blue,BLUE_BAND); band(xF,yF,F_gray,GRAY_BAND);
line(xF,yF,F_blue,BLUE,3); line(xF,yF,F_gray,GRAY,3);
vdash(xF(0),995,1268.3,2.4,"7,4.5");
F_marks.forEach(m => marker(xF(m[0]),yF(m[1]),m[2],m[3],8.5));
axisB(xF,1268.3,xt_tokBF,xl_tokBF,15.4);
axisL(yF,xF(-1.98),[0,5,10,15,20,25,30],[[0,"0"],[10,"10"],[20,"20"],[30,"30"]]);
// H
const xH = lin([-2.21,0.46],[1076.3,1352.6]), yH = lin([0,35],[1607.7,1326.5]);
line(xH,yH,H_gray,GRAY,3); line(xH,yH,H_blue,BLUE,3);
vdash(xH(0),1326,1607.7,2.4,"7,4.5");
H_marks.forEach(m => marker(xH(m[0]),yH(m[1]),m[2],m[3],8.5));
axisB(xH,1607.7,xt_tokDH,xl_tokDH,11);
axisL(yH,xH(-2.21),[0,10,20,30],[[0,"0"],[10,"10"],[20,"20"],[30,"30"]]);
txt(1211.7,1660,"Time from movement onset (s)",18.5,{anchor:"middle"});

// ---------- panel letters and y labels ----------
[["A",157,280],["C",157,649],["E",159,985],["G",159,1349],["B",983,279],["D",983,648],["F",978,985],["H",991,1349]]
  .forEach(d => txt(d[1],d[2],d[0],20,{bold:true}));
[[188,353],[188,787],[188,1080],[188,1503],[1023,422],[1023,772],[1023,1127],[1023,1472]]
  .forEach(d => txt(d[0],d[1],"Activity (Hz)",21,{anchor:"middle",rot:true}));

// ---------- caption ----------
txt(150,1712,"Figure 8.  Comparison of Volitional Commitment versus Instructed Movement",16.5,{bold:true,fill:"#9c3a2b",pre:true,len:687});
txt(150,1735.5,"(A) Activity of a PMd decision-related neuron during the delayed reach task, in trials to the PT (blue) or OT (gray), aligned on target onset (left), GO signal (middle),",15.5,{fill:"#222",len:1224});
txt(150,1759.5,"and movement onset (right).",15.5,{fill:"#222",len:219});
txt(150,1783.5,"(B) Activity of the same neuron during easy trials in the tokens task and aligned on movement onset.",15.5,{fill:"#222",len:780});
txt(150,1807,"(C) Average activity of 58 PMd neurons recorded during the DR task, in trials to the PT (blue) or OT (gray). Among these, 30 are significantly tuned in the DR task",15.5,{fill:"#222",len:1224});
txt(150,1831,"(solid) whereas 28 are not (dotted).",15.5,{fill:"#222",len:268});
txt(1374,1857,"(legend continued on next page)",15.5,{fill:"#222",italic:true,anchor:"end",len:247});
txt(150,1906,"1410",18,{bold:true,fill:"#222"});
const foot = svg.append("text").attr("x",212.8).attr("y",1906).style("font-size","18px").attr("fill","#222");
foot.append("tspan").text("Neuron ");
foot.append("tspan").style("font-style","italic").text("81");
foot.append("tspan").text(", 1401\u20131416, March 19, 2014 \u00a92014 Elsevier Inc.");
</script>
</body></html>
